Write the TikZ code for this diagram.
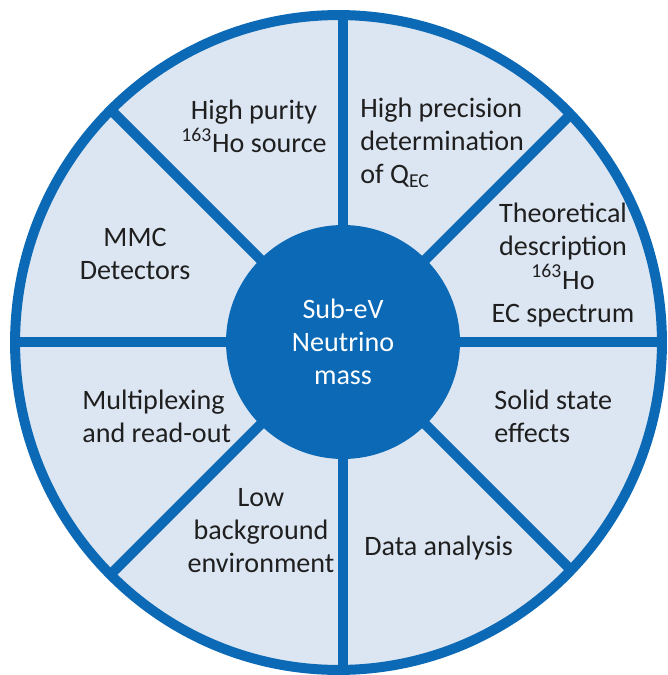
\documentclass[tikz,border=0pt]{standalone}
\usepackage{fontspec}
\setmainfont{Carlito}
\usepackage{xcolor}

\begin{document}
\begin{tikzpicture}[x=0.02cm,y=-0.02cm,
  topic/.style={text=textgrey,font=\fontsize{16}{18.8}\selectfont,inner sep=0pt},
  spoke/.style={draw=wheelblue,line width=0.2cm},
  hubnode/.style={circle,fill=wheelblue,minimum size=4.68cm,inner sep=0pt,text=white,align=center,font=\fontsize{16}{18.8}\selectfont}]
\definecolor{wheelblue}{HTML}{0B69B5}
\definecolor{paleblue}{HTML}{DCE6F2}
\definecolor{textgrey}{HTML}{1F1F1F}
\useasboundingbox (0,0) rectangle (668,675);
\coordinate (rim) at (338.5,342.5);
\coordinate (core) at (343,342);
\fill[paleblue] (rim) ellipse [x radius=6.47cm, y radius=6.55cm];
\begin{scope}
  \clip (rim) ellipse [x radius=6.47cm, y radius=6.55cm];
  \foreach \ang in {0,45,...,315}
  {  \coordinate (end\ang) at ([shift={(\ang:400)}]core);
     \draw[spoke] (core) -- (end\ang);}
\end{scope}
\draw[wheelblue,line width=0.2cm] (rim) ellipse [x radius=6.47cm, y radius=6.55cm];
\node[hubnode] (hub) at (core) {Sub-eV\\Neutrino\\mass};

\node[topic,align=center] (purity) at (254,126) {High purity\\\textsuperscript{163}Ho source};
\node[topic,align=left,anchor=west] (precision) at (360,143) {High precision\\determination\\of Q\textsubscript{EC}};
\node[topic,align=center] (theory) at (563,265) {Theoretical\\description\\\textsuperscript{163}Ho\\EC spectrum};
\node[topic,align=center] (mmc) at (135,254) {MMC\\Detectors};
\node[topic,align=left,anchor=west] (readout) at (82,416) {Multiplexing\\and read-out};
\node[topic,align=left,anchor=west] (solid) at (494,416) {Solid state\\effects};
\node[topic,align=center] (lowbg) at (261,531) {Low\\background\\environment};
\node[topic,anchor=west] (analysis) at (364,548) {Data analysis};
\end{tikzpicture}
\end{document}
